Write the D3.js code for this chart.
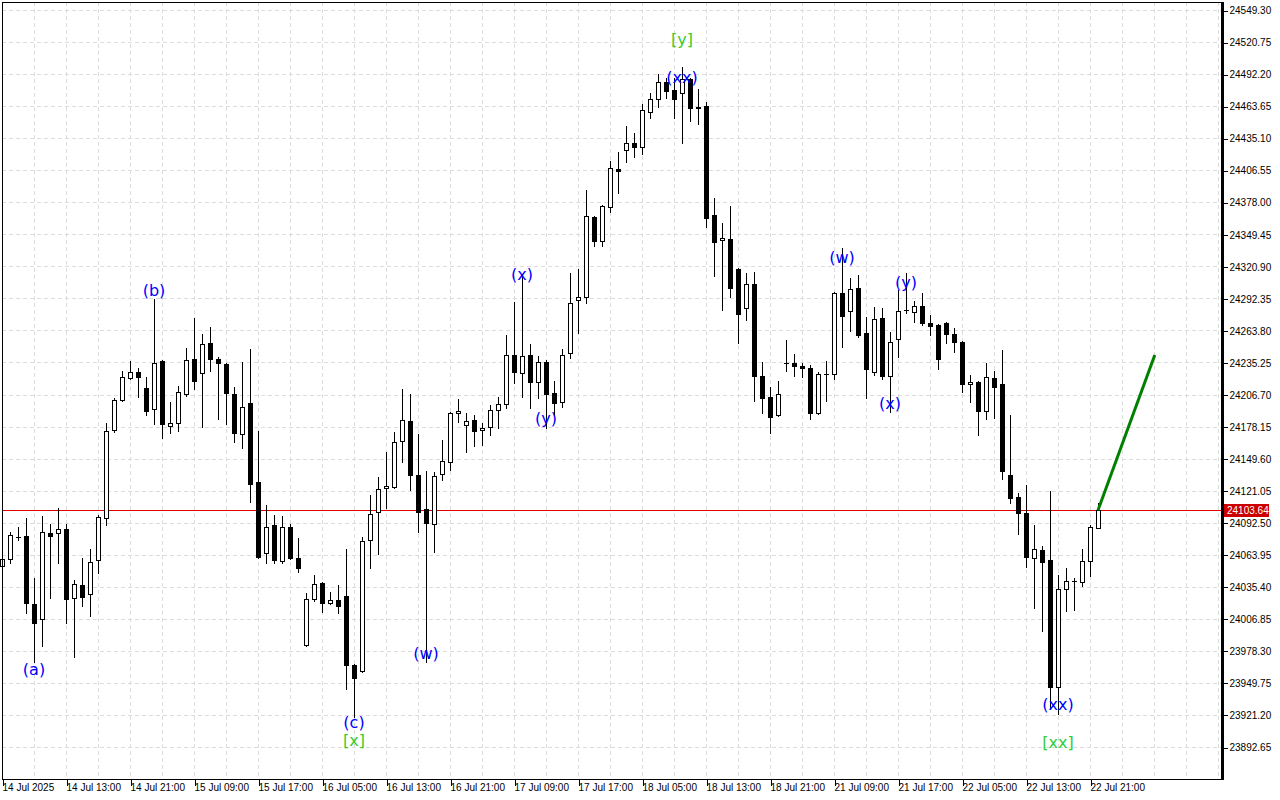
<!DOCTYPE html>
<html><head><meta charset="utf-8">
<script src="https://cdn.jsdelivr.net/npm/d3@7"></script>
<style>
body{margin:0;background:#fff;}
svg{display:block;}
</style>
</head><body>
<svg id="chart" width="1280" height="800"></svg>
<script>
// ---------- DATA ----------
const openP = [24054.0,24060.2,24079.8,24080.7,24020.0,24006.7,24083.3,24083.3,24086.9,24025.5,
24037.0,24029.0,24059.3,24096.7,24175.1,24201.8,24221.5,24226.8,24212.6,24193.8,
24236.6,24178.7,24181.3,24207.2,24238.4,24225.9,24252.6,24238.4,24233.9,24207.2,
24171.5,24199.1,24128.8,24065.5,24090.4,24058.4,24088.7,24061.1,23983.5,24024.6,
24038.8,24020.9,24023.6,24027.3,23965.7,23960.4,24077.1,24102.0,24123.5,24124.4,
24165.3,24183.1,24135.0,24104.7,24091.3,24135.9,24146.6,24190.2,24179.5,24184.0,
24175.1,24177.8,24192.9,24198.2,24241.9,24225.9,24241.9,24217.9,24235.7,24208.1,
24200.0,24243.7,24290.9,24293.6,24364.9,24343.5,24373.8,24407.6,24424.6,24430.8,
24427.3,24458.4,24470.0,24485.1,24478.0,24475.3,24487.8,24462.9,24463.8,24366.6,
24344.4,24345.3,24318.6,24283.8,24305.2,24223.2,24204.6,24188.4,24234.8,24234.8,
24232.1,24230.4,24190.2,24225.0,24225.0,24297.2,24281.1,24301.6,24261.5,24226.8,
24274.9,24223.2,24256.2,24282.0,24280.2,24285.5,24270.4,24268.6,24270.4,24260.6,
24253.5,24216.1,24217.9,24192.0,24221.5,24216.1,24135.0,24115.4,24101.1,24061.1,
24068.2,24059.3,23946.1,24033.4,24040.6,24039.7,24058.4,24087.8];

const highP = [24062.9,24084.2,24088.7,24096.7,24043.3,24098.5,24091.3,24105.6,24091.3,24041.5,
24061.1,24069.1,24099.3,24181.3,24203.7,24227.7,24236.6,24230.4,24222.4,24291.8,
24237.5,24200.0,24214.4,24248.2,24274.9,24260.6,24266.9,24240.2,24234.5,24213.5,
24235.7,24247.3,24174.2,24108.2,24099.3,24098.5,24091.3,24078.9,24029.9,24045.9,
24039.5,24030.8,24037.0,24069.1,23966.5,24079.8,24117.2,24133.3,24155.5,24173.3,
24211.7,24207.2,24171.5,24138.6,24137.7,24166.2,24191.1,24202.7,24190.2,24188.4,
24181.3,24197.3,24204.6,24259.7,24289.1,24313.2,24251.7,24241.0,24237.5,24218.8,
24247.3,24315.0,24318.6,24388.9,24365.8,24375.5,24414.7,24422.8,24446.0,24439.7,
24465.5,24475.3,24492.3,24488.7,24488.7,24498.5,24488.5,24478.9,24467.3,24381.8,
24359.5,24374.7,24319.5,24315.0,24315.9,24235.7,24213.5,24218.8,24255.3,24242.8,
24234.8,24233.0,24226.8,24236.6,24297.8,24337.2,24310.5,24313.2,24275.8,24284.7,
24283.8,24262.4,24299.8,24315.0,24290.0,24297.2,24277.5,24269.5,24271.3,24266.0,
24254.4,24224.1,24218.8,24234.8,24227.7,24246.4,24188.4,24119.0,24126.1,24090.4,
24071.8,24120.8,24045.9,24052.2,24043.3,24069.1,24090.4,24110.0];

const lowP = [24052.2,24056.6,24077.1,24012.0,23968.4,23982.7,24025.5,24056.6,24003.1,23972.9,
24018.3,24009.4,24047.7,24090.4,24173.3,24200.9,24220.6,24204.6,24188.4,24180.4,
24168.0,24172.4,24174.2,24205.5,24211.7,24177.8,24227.7,24184.9,24180.4,24164.4,
24159.1,24110.9,24061.1,24056.6,24056.6,24056.6,24060.5,24048.6,23982.7,24022.7,
24012.9,24020.0,24012.0,23944.4,23919.4,23959.5,24052.2,24064.6,24105.6,24123.5,
24146.6,24121.7,24084.2,23968.4,24066.4,24130.6,24139.5,24182.2,24155.5,24160.9,
24161.7,24170.6,24176.9,24194.7,24217.0,24204.6,24194.7,24203.7,24176.9,24188.4,
24195.6,24239.3,24261.5,24288.2,24339.1,24339.1,24369.3,24386.2,24413.9,24418.3,
24421.0,24453.1,24462.9,24470.9,24453.1,24430.8,24450.4,24447.7,24355.9,24312.3,
24282.0,24293.6,24252.6,24273.1,24200.9,24190.2,24172.4,24187.5,24227.7,24223.2,
24222.4,24184.9,24189.3,24200.9,24220.6,24249.0,24263.3,24257.9,24203.7,24224.1,
24220.6,24191.1,24240.2,24279.3,24271.3,24268.6,24259.7,24229.5,24252.6,24244.6,
24209.0,24200.0,24170.6,24184.9,24185.8,24131.4,24110.0,24082.4,24053.1,24016.5,
23996.0,23927.4,23922.0,24013.8,24014.7,24036.1,24045.0,24087.8];

const closeP = [24060.2,24081.5,24079.8,24020.9,24003.1,24084.2,24080.7,24086.9,24024.6,24037.9,
24026.4,24057.5,24097.6,24174.2,24201.8,24222.4,24226.8,24222.4,24192.0,24234.8,
24180.4,24181.3,24209.0,24237.5,24218.8,24251.7,24238.4,24234.8,24208.1,24172.4,
24195.6,24127.0,24062.0,24088.7,24059.3,24088.7,24061.1,24052.2,24024.6,24037.9,
24020.9,24023.6,24018.3,23965.7,23954.2,24076.2,24100.2,24122.6,24125.3,24164.4,
24184.0,24135.0,24102.0,24092.2,24134.2,24147.5,24190.2,24192.0,24183.1,24174.2,
24176.9,24192.9,24198.2,24241.9,24226.8,24241.0,24217.9,24235.7,24207.2,24199.1,
24241.9,24288.2,24293.6,24365.8,24343.5,24374.7,24408.5,24405.8,24430.8,24427.3,
24460.2,24470.0,24485.1,24477.1,24470.0,24487.8,24462.0,24462.4,24364.0,24342.6,
24346.2,24301.6,24278.4,24305.2,24223.2,24203.7,24186.7,24207.2,24234.8,24232.1,
24230.4,24190.2,24225.0,24225.0,24297.2,24276.6,24300.7,24259.7,24229.5,24274.0,
24223.2,24253.5,24281.1,24282.0,24285.5,24270.4,24267.7,24238.4,24260.6,24253.5,
24216.1,24217.9,24192.0,24222.4,24213.5,24138.6,24114.5,24101.1,24062.0,24069.1,
24057.5,23946.1,24033.4,24040.6,24040.6,24058.4,24088.7,24103.64];

const priceTicks = [24549.30,24520.75,24492.20,24463.65,24435.10,24406.55,24378.00,24349.45,
24320.90,24292.35,24263.80,24235.25,24206.70,24178.15,24149.60,24121.05,24092.50,24063.95,
24035.40,24006.85,23978.30,23949.75,23921.20,23892.65];

const timeLabels = ["14 Jul 2025","14 Jul 13:00","14 Jul 21:00","15 Jul 09:00","15 Jul 17:00",
"16 Jul 05:00","16 Jul 13:00","16 Jul 21:00","17 Jul 09:00","17 Jul 17:00","18 Jul 05:00",
"18 Jul 13:00","18 Jul 21:00","21 Jul 09:00","21 Jul 17:00","22 Jul 05:00","22 Jul 13:00","22 Jul 21:00"];
const timeLabelBars = [0,8,16,24,32,40,48,56,64,72,80,88,96,104,112,120,128,136];

const currentPrice = 24103.64;

const waveText  = ["(a)","(b)","(c)","[x]","(w)","(x)","(y)","(xx)","[y]","(w)","(x)","(y)","(xx)","[xx]"];
const waveBar   = [4,19,44,44,53,65,68,85,85,105,111,113,132,132];
const wavePrice = [23961.3,24299.8,23914.9,23898.0,23976.4,24313.2,24184.9,24489.6,24522.6,24329.2,24199.1,24306.9,23930.1,23897.1];
const waveDegree= ["minor","minor","minor","major","minor","minor","minor","minor","major","minor","minor","minor","minor","major"];

const projBars   = [137, 144.1];
const projPrices = [24103.64, 24241.9];

// ---------- DRAW ----------
const svg = d3.select("#chart");
const L = 2, R = 1222, T = 2, B = 779;
const x = d3.scaleLinear().domain([0, 152.5]).range([2, 1222]);
const y = d3.scaleLinear().domain([23892.65, 24549.30]).range([747, 10]);
const px = v => Math.round(v) + 0.5;

svg.append("rect").attr("width",1280).attr("height",800).attr("fill","#fff");

// grid
const grid = svg.append("g").attr("shape-rendering","crispEdges")
  .attr("stroke","#dcdcdc").attr("stroke-dasharray","4,3").attr("stroke-width",1);
grid.selectAll("line.h").data(priceTicks).join("line").attr("class","h")
  .attr("x1",L).attr("x2",R).attr("y1",d=>px(y(d))).attr("y2",d=>px(y(d)));
grid.selectAll("line.v").data(d3.range(4,153,4)).join("line").attr("class","v")
  .attr("x1",d=>px(x(d))).attr("x2",d=>px(x(d))).attr("y1",T).attr("y2",B);

// current price line
svg.append("line").attr("shape-rendering","crispEdges")
  .attr("x1",L).attr("x2",R).attr("y1",px(y(currentPrice))).attr("y2",px(y(currentPrice)))
  .attr("stroke","#e00000").attr("stroke-width",1);

// candles
const idx = d3.range(openP.length);
const cg = svg.append("g").attr("shape-rendering","crispEdges");
cg.selectAll("line.wick").data(idx).join("line").attr("class","wick")
  .attr("x1",i=>px(x(i))).attr("x2",i=>px(x(i)))
  .attr("y1",i=>Math.round(y(highP[i]))).attr("y2",i=>Math.round(y(lowP[i]))+1)
  .attr("stroke","#000").attr("stroke-width",1);
idx.forEach(i=>{
  const cx = Math.round(x(i));
  const yo = y(openP[i]), yc = y(closeP[i]);
  const top = Math.round(Math.min(yo,yc)), bot = Math.round(Math.max(yo,yc));
  if (bot - top < 1) {
    cg.append("line").attr("x1",cx-2).attr("x2",cx+3).attr("y1",top+0.5).attr("y2",top+0.5)
      .attr("stroke","#000").attr("stroke-width",1);
  } else {
    cg.append("rect").attr("x",cx-1.5).attr("y",top+0.5).attr("width",4).attr("height",bot-top)
      .attr("fill", closeP[i] >= openP[i] ? "#fff" : "#000")
      .attr("stroke","#000").attr("stroke-width",1);
  }
});

// projection line
svg.append("line")
  .attr("x1",x(projBars[0])).attr("y1",y(projPrices[0]))
  .attr("x2",x(projBars[1])).attr("y2",y(projPrices[1]))
  .attr("stroke","#008000").attr("stroke-width",3);

// wave labels
svg.append("g").selectAll("text").data(waveText).join("text")
  .attr("x",(d,i)=>x(waveBar[i])).attr("y",(d,i)=>y(wavePrice[i]))
  .attr("text-anchor","middle").attr("dominant-baseline","central")
  .attr("font-family","'DejaVu Sans', sans-serif").attr("font-size",16)
  .attr("fill",(d,i)=>waveDegree[i]==="major" ? "#32cd32" : "#0000ff")
  .text(d=>d);

// frame
svg.append("g").attr("shape-rendering","crispEdges").call(g=>{
  g.append("line").attr("x1",L+0.5).attr("x2",L+0.5).attr("y1",T).attr("y2",B+1).attr("stroke","#000");
  g.append("line").attr("x1",L).attr("x2",R).attr("y1",T+0.5).attr("y2",T+0.5).attr("stroke","#000");
  g.append("line").attr("x1",L).attr("x2",R).attr("y1",B+0.5).attr("y2",B+0.5).attr("stroke","#000");
  g.append("line").attr("x1",R+0.5).attr("x2",R+0.5).attr("y1",T).attr("y2",B+1).attr("stroke","#000").attr("stroke-width",3);
});

// right axis
const yAxis = d3.axisRight(y).tickValues(priceTicks).tickFormat(d3.format(".2f")).tickSize(4).tickPadding(2);
const ya = svg.append("g").attr("transform",`translate(${R+1.5},0.5)`).attr("shape-rendering","crispEdges").call(yAxis);
ya.select(".domain").remove();
ya.selectAll(".tick text").attr("font-family","'Liberation Sans', Arial, sans-serif").attr("font-size",10).attr("fill","#000");
ya.selectAll(".tick line").attr("stroke","#000");

// bottom axis
const xAxis = d3.axisBottom(x).tickValues(timeLabelBars).tickFormat((d,i)=>timeLabels[i]).tickSize(6).tickPadding(2);
const xa = svg.append("g").attr("transform",`translate(0.5,${B+1})`).attr("shape-rendering","crispEdges").call(xAxis);
xa.select(".domain").remove();
xa.selectAll(".tick text").attr("text-anchor","start").attr("dx","-0.5").attr("dy","0.3em")
  .attr("font-family","'Liberation Sans', Arial, sans-serif").attr("font-size",10).attr("fill","#000");
xa.selectAll(".tick line").attr("stroke","#000");

// current price tag
const cy = Math.round(y(currentPrice));
svg.append("rect").attr("x",R+2).attr("y",cy-6).attr("width",45).attr("height",13).attr("fill","#cc0000");
svg.append("text").attr("x",R+5).attr("y",cy+0.5).attr("dominant-baseline","central")
  .attr("font-family","'Liberation Sans', Arial, sans-serif").attr("font-size",10).attr("fill","#fff")
  .text(currentPrice.toFixed(2));
</script>
</body></html>
